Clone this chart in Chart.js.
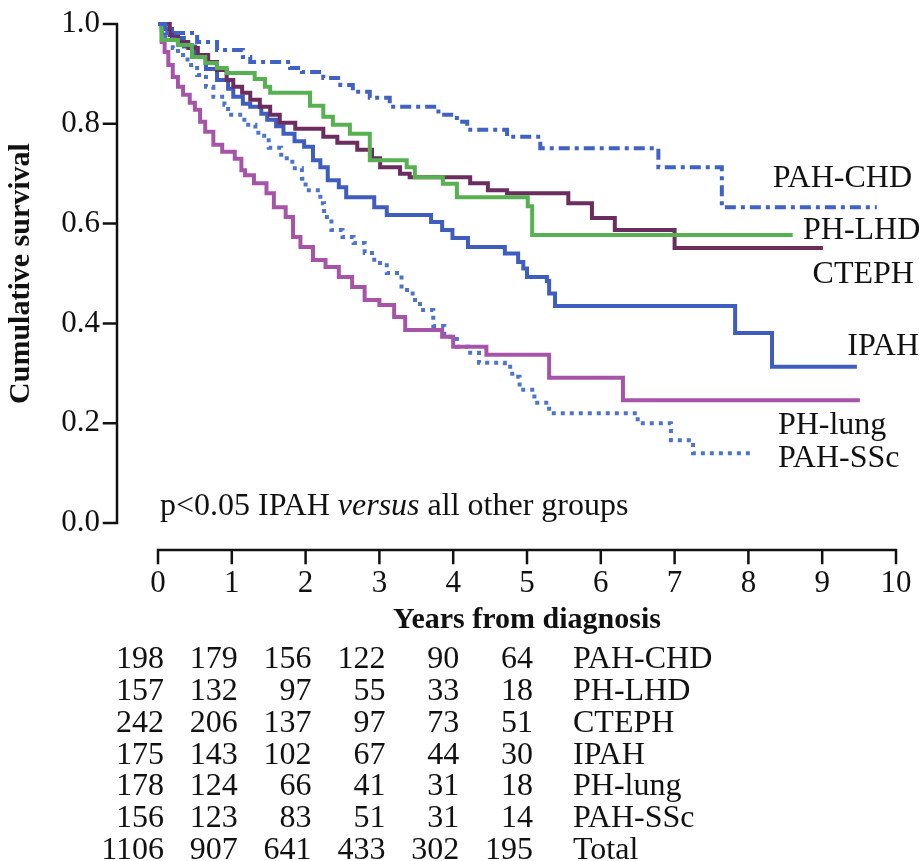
<!DOCTYPE html>
<html>
<head>
<meta charset="utf-8">
<script src="https://cdn.jsdelivr.net/npm/chart.js@4.4.1/dist/chart.umd.min.js"></script>
<style>
  html, body { margin: 0; padding: 0; background: #fff; }
  canvas { display: block; }
</style>
</head>
<body>
<canvas id="myChart" width="919" height="861"></canvas>
<script>
// tiempos (años) y supervivencia acumulada
const pahChdT = [0, 0.1, 0.53, 0.8, 1.15, 1.25, 1.79, 1.95, 2.24, 2.47, 2.64, 2.87, 3.14, 3.8, 4.05, 4.19, 4.73, 5.18, 6.78, 7.64, 9.74];
const pahChdS = [1.0, 0.982, 0.964, 0.948, 0.934, 0.924, 0.912, 0.904, 0.892, 0.878, 0.864, 0.852, 0.834, 0.818, 0.804, 0.788, 0.774, 0.751, 0.713, 0.633, 0.633];

const phLhdT = [0, 0.05, 0.27, 0.46, 0.64, 0.8, 0.93, 1.31, 1.45, 1.52, 2.06, 2.24, 2.37, 2.6, 2.87, 3.37, 3.48, 3.86, 4.05, 5.01, 5.07, 8.6];
const phLhdS = [1.0, 0.968, 0.958, 0.934, 0.922, 0.912, 0.902, 0.89, 0.874, 0.862, 0.836, 0.814, 0.798, 0.78, 0.727, 0.713, 0.693, 0.68, 0.653, 0.635, 0.577, 0.577];

const ctephT = [0, 0.16, 0.27, 0.41, 0.54, 0.68, 0.8, 0.93, 1.02, 1.14, 1.25, 1.38, 1.52, 1.65, 1.86, 2.24, 2.43, 2.7, 2.9, 3.01, 3.28, 3.41, 4.23, 4.47, 4.73, 5.56, 5.88, 6.19, 7.0, 9.01];
const ctephS = [1.0, 0.978, 0.964, 0.952, 0.938, 0.924, 0.908, 0.888, 0.874, 0.862, 0.848, 0.834, 0.818, 0.802, 0.79, 0.774, 0.762, 0.748, 0.731, 0.713, 0.70, 0.693, 0.681, 0.667, 0.661, 0.641, 0.611, 0.587, 0.551, 0.551];

const ipahT = [0, 0.05, 0.19, 0.35, 0.5, 0.65, 0.8, 0.95, 1.02, 1.15, 1.25, 1.4, 1.48, 1.6, 1.7, 1.85, 1.98, 2.1, 2.2, 2.3, 2.45, 2.55, 2.93, 3.1, 3.7, 3.85, 3.99, 4.2, 4.7, 4.88, 4.95, 5.0, 5.27, 5.3, 5.38, 7.82, 8.32, 9.47];
const ipahS = [1.0, 0.99, 0.972, 0.955, 0.938, 0.91, 0.888, 0.87, 0.854, 0.84, 0.834, 0.82, 0.808, 0.795, 0.78, 0.765, 0.754, 0.727, 0.713, 0.687, 0.673, 0.653, 0.633, 0.617, 0.603, 0.587, 0.571, 0.553, 0.54, 0.523, 0.51, 0.493, 0.485, 0.46, 0.435, 0.381, 0.313, 0.313];

const phLungT = [0, 0.05, 0.09, 0.14, 0.2, 0.27, 0.34, 0.43, 0.5, 0.57, 0.64, 0.75, 0.87, 1.04, 1.13, 1.18, 1.3, 1.47, 1.57, 1.73, 1.83, 1.93, 2.1, 2.27, 2.45, 2.63, 2.8, 3.0, 3.2, 3.35, 3.85, 4.0, 4.45, 5.3, 6.3, 9.51];
const phLungS = [1.0, 0.964, 0.944, 0.918, 0.894, 0.874, 0.858, 0.842, 0.828, 0.804, 0.784, 0.758, 0.744, 0.73, 0.707, 0.697, 0.681, 0.661, 0.633, 0.613, 0.573, 0.553, 0.527, 0.513, 0.493, 0.473, 0.447, 0.437, 0.413, 0.387, 0.373, 0.353, 0.337, 0.291, 0.246, 0.246];

const pahSscT = [0, 0.1, 0.2, 0.27, 0.4, 0.53, 0.65, 0.75, 0.9, 0.95, 1.17, 1.32, 1.36, 1.5, 1.67, 1.82, 1.95, 2.0, 2.2, 2.25, 2.35, 2.5, 2.65, 2.8, 2.93, 3.1, 3.3, 3.45, 3.55, 3.73, 3.88, 4.05, 4.2, 4.35, 4.7, 4.8, 4.9, 5.1, 5.3, 6.5, 6.95, 7.25, 8.06];
const pahSscS = [1.0, 0.97, 0.952, 0.938, 0.918, 0.898, 0.874, 0.854, 0.838, 0.818, 0.798, 0.79, 0.776, 0.752, 0.731, 0.711, 0.69, 0.667, 0.641, 0.613, 0.587, 0.573, 0.561, 0.541, 0.521, 0.501, 0.467, 0.447, 0.427, 0.395, 0.373, 0.353, 0.341, 0.321, 0.313, 0.293, 0.267, 0.241, 0.22, 0.2, 0.166, 0.14, 0.14];

// pacientes en riesgo a 0..5 años
const grupos = ["PAH-CHD", "PH-LHD", "CTEPH", "IPAH", "PH-lung", "PAH-SSc", "Total"];
const riesgoPahChd = [198, 179, 156, 122, 90, 64];
const riesgoPhLhd = [157, 132, 97, 55, 33, 18];
const riesgoCteph = [242, 206, 137, 97, 73, 51];
const riesgoIpah = [175, 143, 102, 67, 44, 30];
const riesgoPhLung = [178, 124, 66, 41, 31, 18];
const riesgoPahSsc = [156, 123, 83, 51, 31, 14];
const riesgoTotal = [1106, 907, 641, 433, 302, 195];

const serif = '"Liberation Serif", "Times New Roman", serif';
const negro = "#111";
const fuente = "32px " + serif;

function puntos(ts, ss) {
    return ts.map((t, i) => ({ x: t, y: ss[i] }));
}

const curvas = [
    { label: "PAH-CHD", data: puntos(pahChdT, pahChdS), color: "#4062c4", dash: [11, 5, 4, 5] },
    { label: "PH-LHD", data: puntos(phLhdT, phLhdS), color: "#57b150", dash: [] },
    { label: "CTEPH", data: puntos(ctephT, ctephS), color: "#6b2c5f", dash: [] },
    { label: "IPAH", data: puntos(ipahT, ipahS), color: "#3f5cbf", dash: [] },
    { label: "PH-lung", data: puntos(phLungT, phLungS), color: "#a654a7", dash: [] },
    { label: "PAH-SSc", data: puntos(pahSscT, pahSscS), color: "#4d74cb", dash: [4, 5] }
];

// ejes separados, etiquetas de las curvas y tabla de riesgo
const extras = {
    id: "extras",
    afterDraw(chart) {
        const { ctx, scales: { x, y } } = chart;
        ctx.save();
        ctx.strokeStyle = negro;
        ctx.lineWidth = 2.5;
        ctx.lineCap = "square";
        const ax = x.left - 41;
        ctx.beginPath();
        ctx.moveTo(ax, y.getPixelForValue(0));
        ctx.lineTo(ax, y.getPixelForValue(1));
        y.ticks.forEach(t => {
            const py = y.getPixelForValue(t.value);
            ctx.moveTo(ax - 13, py);
            ctx.lineTo(ax, py);
        });
        const ay = y.bottom + 27;
        ctx.moveTo(x.getPixelForValue(0), ay);
        ctx.lineTo(x.getPixelForValue(10), ay);
        x.ticks.forEach(t => {
            const px = x.getPixelForValue(t.value);
            ctx.moveTo(px, ay);
            ctx.lineTo(px, ay + 13);
        });
        ctx.stroke();

        ctx.fillStyle = negro;
        ctx.font = fuente;
        ctx.textBaseline = "middle";
        ctx.textAlign = "left";
        const etiquetas = [
            ["PAH-CHD", 8.33, 0.69],
            ["PH-LHD", 8.74, 0.585],
            ["CTEPH", 8.87, 0.497],
            ["IPAH", 9.34, 0.353],
            ["PH-lung", 8.4, 0.195],
            ["PAH-SSc", 8.4, 0.13]
        ];
        etiquetas.forEach(([txt, tx, ty]) => {
            ctx.fillText(txt, x.getPixelForValue(tx), y.getPixelForValue(ty));
        });

        // texto del valor p, con "versus" en cursiva
        let px = x.left + 2;
        const py = y.getPixelForValue(0.032);
        const partes = [["p<0.05 IPAH ", ""], ["versus", "italic "], [" all other groups", ""]];
        partes.forEach(([txt, estilo]) => {
            ctx.font = estilo + fuente;
            ctx.fillText(txt, px, py);
            px += ctx.measureText(txt).width;
        });

        // tabla de pacientes en riesgo
        const filas = [riesgoPahChd, riesgoPhLhd, riesgoCteph, riesgoIpah, riesgoPhLung, riesgoPahSsc, riesgoTotal];
        ctx.font = fuente;
        filas.forEach((fila, i) => {
            const fy = 660 + i * 31.7;
            ctx.textAlign = "right";
            fila.forEach((n, j) => {
                ctx.fillText(String(n), x.getPixelForValue(j) + 6, fy);
            });
            ctx.textAlign = "left";
            ctx.fillText(grupos[i], 573, fy);
        });
        ctx.restore();
    }
};

const grafica = document.getElementById("myChart").getContext("2d");

const myChart = new Chart(grafica, {
    type: "line",
    data: {
        datasets: curvas.map(c => ({
            label: c.label,
            data: c.data,
            borderColor: c.color,
            borderWidth: 4,
            borderDash: c.dash,
            stepped: true,
            fill: false,
            pointRadius: 0,
            clip: 8
        }))
    },
    options: {
        responsive: false,
        animation: false,
        devicePixelRatio: 1,
        layout: { padding: { top: 24, right: 23, left: 0, bottom: 0 } },
        plugins: {
            legend: { display: false },
            tooltip: { enabled: false }
        },
        scales: {
            x: {
                type: "linear",
                min: 0,
                max: 10,
                grid: { display: false, drawTicks: false },
                border: { display: false },
                ticks: {
                    stepSize: 1,
                    padding: 42,
                    maxRotation: 0,
                    autoSkip: false,
                    color: negro,
                    font: { family: serif, size: 31 }
                },
                title: {
                    display: true,
                    text: "Years from diagnosis",
                    color: negro,
                    font: { family: serif, size: 30, weight: "bold" },
                    padding: { top: 0, bottom: 223 }
                },
                afterFit: s => {
                    s.height = 338;
                    s.paddingLeft = 0;
                    s.paddingRight = 0;
                }
            },
            y: {
                min: 0,
                max: 1,
                grid: { display: false, drawTicks: false },
                border: { display: false },
                ticks: {
                    stepSize: 0.2,
                    padding: 58,
                    color: negro,
                    font: { family: serif, size: 31 },
                    callback: v => v.toFixed(1)
                },
                title: {
                    display: true,
                    text: "Cumulative survival",
                    color: negro,
                    font: { family: serif, size: 30, weight: "bold" },
                    padding: { top: 3, bottom: 0 }
                },
                afterFit: s => {
                    s.width = 158;
                    s.paddingTop = 0;
                    s.paddingBottom = 0;
                }
            }
        }
    },
    plugins: [extras]
});
</script>
</body>
</html>
